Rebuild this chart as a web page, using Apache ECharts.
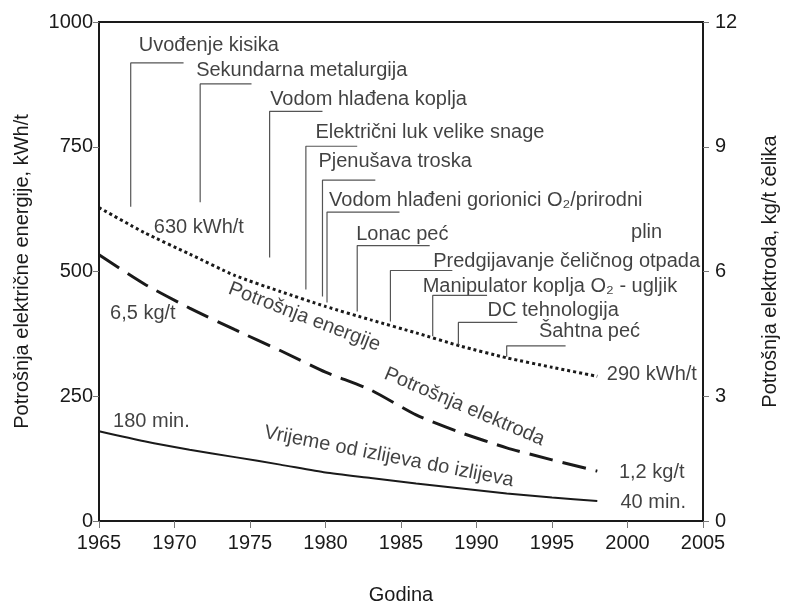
<!DOCTYPE html>
<html>

<head>
    <meta charset="utf-8">
</head>

<body style="height: 100%; margin: 0">
    <div id="container" style="width: 785px; height: 608px"></div>
    <script type="text/javascript" src="https://cdn.jsdelivr.net/npm/echarts@6/dist/echarts.min.js"></script>
    <script>
        var years = [1965, 1968, 1971, 1974, 1977, 1980, 1983, 1986, 1989, 1992, 1995, 1998]
        var energy = [628, 578, 535, 492, 460, 430, 403, 377, 350, 327, 308, 290]       // kWh/t
        var electrode = [6.4, 5.7, 5.12, 4.6, 4.1, 3.58, 3.15, 2.55, 2.12, 1.76, 1.47, 1.2] // kg/t
        var tapTime = [180, 160, 143, 128, 113, 97, 86, 75, 65, 55, 47, 40]            // min

        // leader lines: [year, bottom, top, end year] in kWh/t units
        var leaders = [
            [1967.1, 630, 918, 1970.6],
            [1971.7, 639, 876, 1975.1],
            [1976.3, 528, 821, 1979.8],
            [1978.7, 464, 751, 1982.1],
            [1979.8, 450, 683, 1983.3],
            [1980.1, 438, 619, 1984.9],
            [1982.1, 420, 552, 1986.9],
            [1984.3, 400, 502, 1988.4],
            [1987.1, 370, 452, 1990.7],
            [1988.8, 353, 398, 1992.7],
            [1992.0, 329, 351, 1995.9]
        ]
        var noteTexts = [
            'Uvođenje kisika', 'Sekundarna metalurgija', 'Vodom hlađena koplja',
            'Električni luk velike snage', 'Pjenušava troska',
            'Vodom hlađeni gorionici O₂/prirodni', 'plin', 'Lonac peć',
            'Predgijavanje čeličnog otpada', 'Manipulator koplja O₂ - ugljik',
            'DC tehnologija', 'Šahtna peć',
            '630 kWh/t', '6,5 kg/t', '180 min.', '290 kWh/t', '1,2 kg/t', '40 min.'
        ]
        var notePos = [
            [1967.6, 952], [1971.4, 902], [1976.3, 845], [1979.3, 779], [1979.5, 721],
            [1980.2, 643], [2000.2, 578], [1982.0, 574], [1987.1, 520], [1986.4, 470],
            [1990.7, 422], [1994.1, 380],
            [1968.6, 588], [1965.7, 416], [1965.9, 199], [1998.6, 293], [1999.4, 98], [1999.5, 38]
        ]
        var curveTexts = ['Potrošnja energije', 'Potrošnja elektroda', 'Vrijeme od izlijeva do izlijeva']
        var curvePos = [[1978.6, 409], [1989.2, 229], [1984.2, 129]]
        var curveAngle = [-21, -23, -11]

        var font = 'Liberation Sans, Arial, sans-serif'
        var ink = '#1a1a1a'

        var dom = document.getElementById('container')
        var myChart = echarts.init(dom)

        var series = [{
            type: 'line',
            yAxisIndex: 0,
            data: years.map((y, i) => [y, energy[i]]),
            smooth: 0.2,
            showSymbol: false,
            lineStyle: { color: ink, width: 3, type: [3, 3] }
        }, {
            type: 'line',
            yAxisIndex: 1,
            data: years.map((y, i) => [y, electrode[i]]),
            smooth: 0.2,
            showSymbol: false,
            lineStyle: { color: ink, width: 3, type: [24, 10] }
        }, {
            type: 'line',
            yAxisIndex: 0,
            data: years.map((y, i) => [y, tapTime[i]]),
            smooth: 0.2,
            showSymbol: false,
            lineStyle: { color: ink, width: 2 }
        }]

        leaders.forEach(l => {
            series.push({
                type: 'line',
                yAxisIndex: 0,
                data: [[l[0], l[1]], [l[0], l[2]], [l[3], l[2]]],
                showSymbol: false,
                silent: true,
                lineStyle: { color: '#555', width: 1.2 }
            })
        })

        var noteData = noteTexts.map((t, i) => ({ name: t, value: notePos[i] }))
        curveTexts.forEach((t, i) => {
            noteData.push({
                name: t,
                value: curvePos[i],
                label: { position: 'inside', align: 'center', verticalAlign: 'middle', rotate: curveAngle[i] }
            })
        })
        series.push({
            type: 'scatter',
            yAxisIndex: 0,
            symbolSize: 1,
            itemStyle: { color: 'transparent' },
            data: noteData,
            label: {
                show: true,
                position: 'right',
                distance: 0,
                formatter: '{b}',
                color: '#111',
                fontSize: 20,
                fontFamily: font
            }
        })

        var option = {
            animation: false,
            backgroundColor: '#fff',
            grid: {
                left: 99, right: 82, top: 22, bottom: 87,
                outerBoundsMode: 'none',
                containLabel: false,
                show: true, borderColor: ink, borderWidth: 2
            },
            xAxis: {
                type: 'value',
                min: 1965, max: 2005, interval: 5,
                name: 'Godina',
                nameLocation: 'middle',
                nameGap: 64,
                nameTextStyle: { color: ink, fontSize: 20, fontFamily: font },
                axisLine: { lineStyle: { color: ink, width: 2 } },
                axisTick: { length: 7, lineStyle: { color: '#777', width: 1 } },
                axisLabel: { color: ink, fontSize: 20, fontFamily: font, margin: 12, formatter: v => String(v) },
                splitLine: { show: false }
            },
            yAxis: [{
                type: 'value',
                min: 0, max: 1000, interval: 250,
                name: 'Potrošnja električne energije, kWh/t',
                nameLocation: 'middle',
                nameGap: 67,
                nameTextStyle: { color: ink, fontSize: 20, fontFamily: font },
                axisLine: { show: true, lineStyle: { color: ink, width: 2 } },
                axisTick: { show: true, length: 6, lineStyle: { color: '#777', width: 1 } },
                axisLabel: { color: ink, fontSize: 20, fontFamily: font, margin: 6, formatter: v => String(v) },
                splitLine: { show: false }
            }, {
                type: 'value',
                position: 'right',
                min: 0, max: 12, interval: 3,
                name: 'Potrošnja elektroda, kg/t čelika',
                nameLocation: 'middle',
                nameGap: 57,
                nameRotate: 90,
                nameTextStyle: { color: ink, fontSize: 20, fontFamily: font },
                axisLine: { show: true, lineStyle: { color: ink, width: 2 } },
                axisTick: { show: true, length: 6, lineStyle: { color: '#777', width: 1 } },
                axisLabel: { color: ink, fontSize: 20, fontFamily: font, margin: 12, formatter: v => String(v) },
                splitLine: { show: false }
            }],
            series: series
        }
        myChart.setOption(option)
    </script>

</body>

</html>
